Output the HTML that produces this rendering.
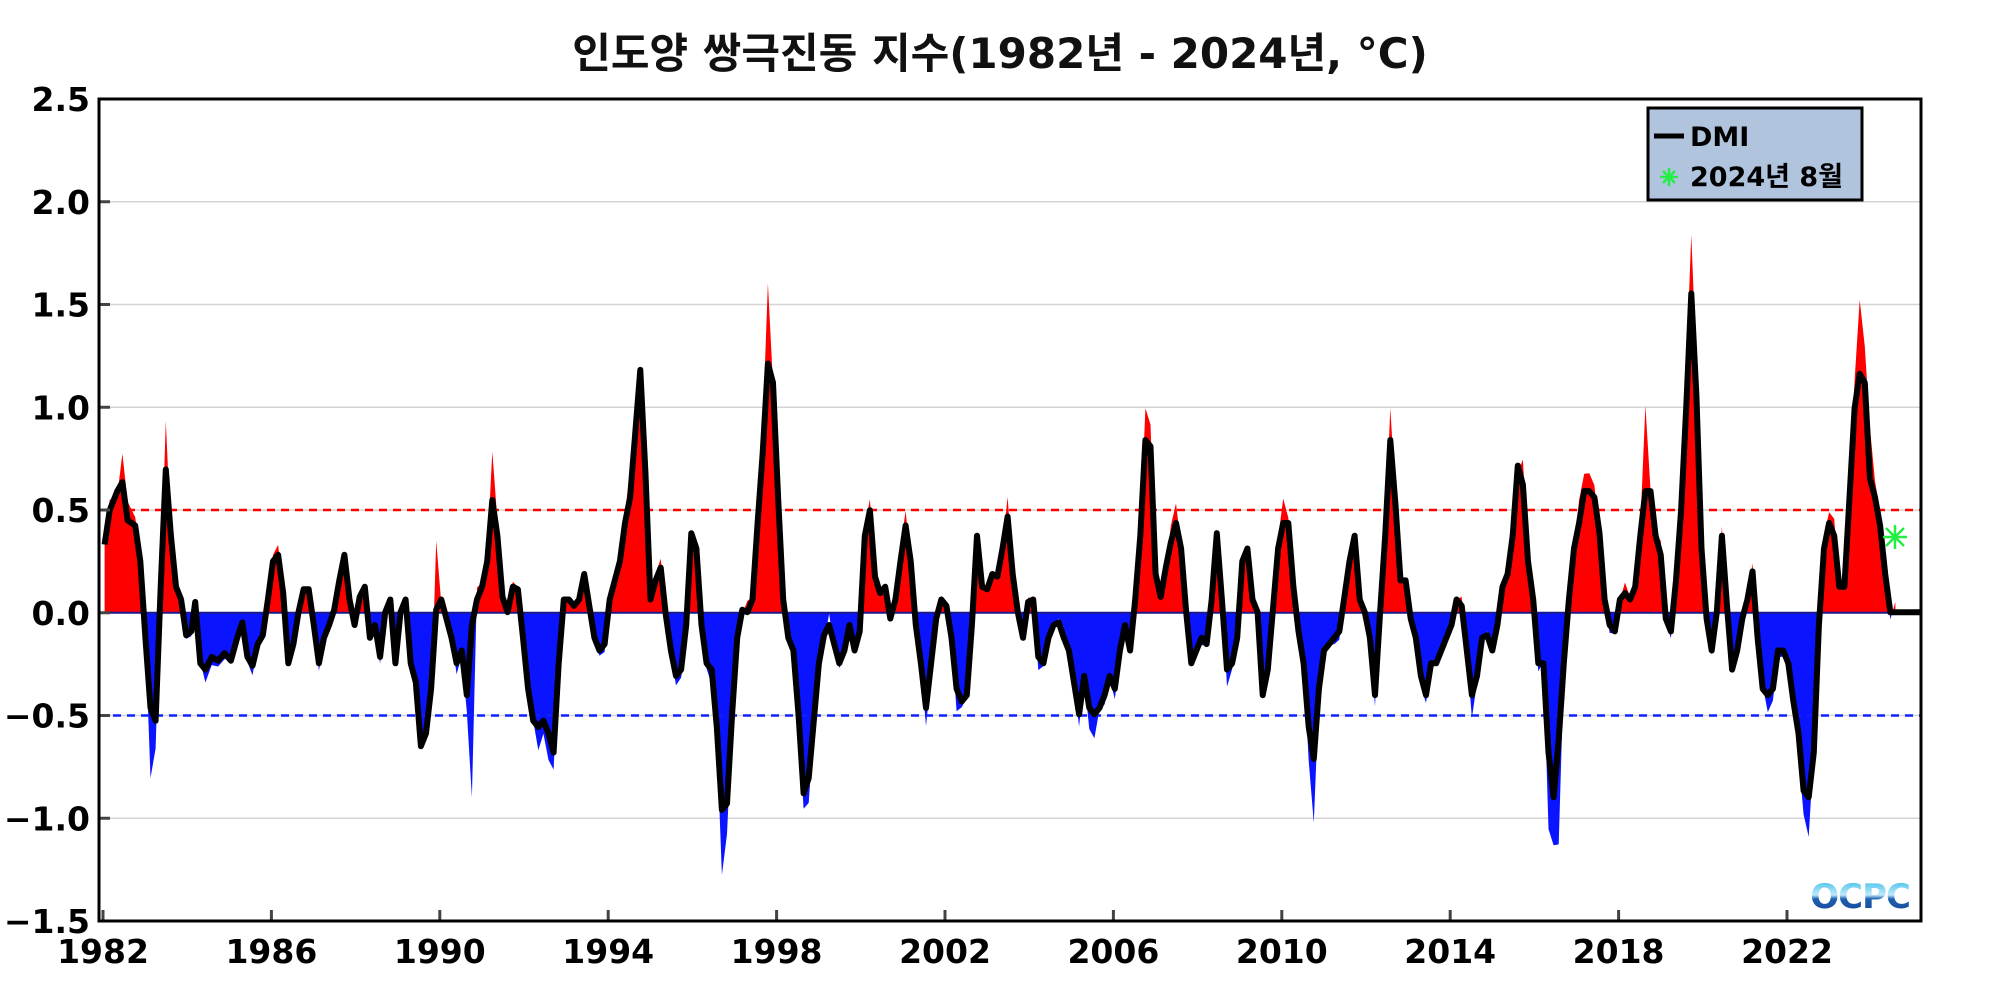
<!DOCTYPE html>
<html><head><meta charset="utf-8"><style>
html,body{margin:0;padding:0;background:#fff;}
svg{display:block;}
text{font-family:"DejaVu Sans","Liberation Sans","Noto Sans CJK KR",sans-serif;font-weight:bold;}
</style></head><body>
<svg id="s" width="2000" height="1000" viewBox="0 0 2000 1000" xmlns="http://www.w3.org/2000/svg">
<defs>
<clipPath id="above"><rect x="99" y="99" width="1822" height="513.75"/></clipPath>
<clipPath id="below"><rect x="99" y="612.75" width="1822" height="308"/></clipPath>
<linearGradient id="lg" x1="0" y1="0" x2="0" y2="1"><stop offset="0" stop-color="#27b8e8"/><stop offset="0.45" stop-color="#bfe9f8"/><stop offset="0.55" stop-color="#1e5fb0"/><stop offset="1" stop-color="#163f91"/></linearGradient>
</defs>
<text x="1000" y="68" font-size="42" text-anchor="middle" fill="#111">인도양 쌍극진동 지수(1982년 - 2024년, °C)</text>
<g id="grid"></g>
<path id="red" fill="#ff0000" clip-path="url(#above)"/>
<path id="blue" fill="#0a14ff" clip-path="url(#below)"/>
<line x1="99" y1="510" x2="1921" y2="510" stroke="#f00" stroke-width="2.5" stroke-dasharray="8,6"/>
<line x1="99" y1="715.5" x2="1921" y2="715.5" stroke="#1020ff" stroke-width="2.5" stroke-dasharray="8,6"/>
<line x1="99" y1="612.75" x2="1895" y2="612.75" stroke="#1a1a8a" stroke-width="2"/>
<line x1="1895" y1="612.75" x2="1921" y2="612.75" stroke="#000" stroke-width="4"/>
<path id="line" fill="none" stroke="#000" stroke-width="6" stroke-linejoin="round"/>
<g id="ticks"></g>
<rect x="99" y="99" width="1822" height="822" fill="none" stroke="#000" stroke-width="3"/>
<g stroke="#22ee44" stroke-width="2.5">
<line x1="1883" y1="537" x2="1907" y2="537"/><line x1="1895" y1="525" x2="1895" y2="549"/>
<line x1="1886" y1="528" x2="1904" y2="546"/><line x1="1904" y1="528" x2="1886" y2="546"/>
</g>
<rect x="1648" y="108" width="214" height="92" fill="#b0c4de" stroke="#000" stroke-width="3"/>
<line x1="1654" y1="136" x2="1684" y2="136" stroke="#000" stroke-width="5"/>
<text x="1690" y="146" font-size="27" fill="#000">DMI</text>
<g stroke="#22ee44" stroke-width="2.5">
<line x1="1660" y1="177" x2="1678" y2="177"/><line x1="1669" y1="168" x2="1669" y2="186"/>
<line x1="1663" y1="171" x2="1675" y2="183"/><line x1="1675" y1="171" x2="1663" y2="183"/>
</g>
<text x="1690" y="186" font-size="27" fill="#000">2024년 8월</text>
<text x="1910" y="908" font-size="34" text-anchor="end" fill="url(#lg)" style="letter-spacing:-1px">OCPC</text>
<g id="labels"></g>
</svg>
<script>
var K=1.2755;
var P=[[82,427],[86,400],[92,385],[96,378],[100,408],[106,412],[110,440],[114,500],[118,555],[122,565],[126,460],[130,368],[134,420],[138,460],[142,470],[146,498],[150,495],[153,472],[157,520],[161,525],[166,515],[171,518],[176,512],[181,518],[186,500],[190,488],[194,515],[198,522],[202,505],[206,498],[210,470],[214,440],[218,435],[222,465],[226,520],[230,505],[234,480],[238,462],[242,462],[246,490],[250,520],[254,500],[258,490],[262,478],[266,455],[270,435],[274,470],[278,490],[282,468],[286,460],[290,500],[294,490],[298,515],[302,480],[306,470],[310,520],[314,480],[318,470],[322,520],[326,535],[330,585],[334,575],[338,540],[342,478],[346,470],[350,485],[354,500],[358,520],[362,510],[366,545],[370,490],[374,470],[378,460],[382,440],[386,392],[390,420],[394,468],[398,480],[402,460],[406,462],[410,500],[414,540],[418,565],[422,570],[426,565],[430,575],[434,590],[438,520],[442,470],[446,470],[450,475],[454,470],[458,450],[462,475],[466,500],[470,510],[474,505],[478,470],[482,455],[486,440],[490,410],[494,390],[498,340],[502,290],[506,370],[510,470],[514,455],[518,445],[522,482],[526,510],[530,530],[534,525],[538,490],[542,418],[546,430],[550,490],[554,520],[558,525],[562,570],[566,635],[570,630],[574,560],[578,500],[582,478],[586,480],[590,470],[594,410],[598,355],[602,285],[606,300],[610,390],[614,470],[618,500],[622,510],[626,560],[630,622],[634,610],[638,565],[642,520],[646,498],[650,490],[654,505],[658,520],[662,510],[666,490],[670,510],[674,495],[678,420],[682,400],[686,452],[690,465],[694,460],[698,485],[702,470],[706,440],[710,412],[714,440],[718,490],[722,520],[726,555],[730,520],[734,485],[738,470],[742,475],[746,500],[750,540],[754,550],[758,545],[762,490],[766,420],[770,460],[774,462],[778,450],[782,452],[786,430],[790,405],[794,450],[798,480],[802,500],[806,472],[810,470],[814,515],[818,520],[822,500],[826,490],[830,488],[834,500],[838,510],[842,535],[846,560],[850,530],[854,555],[858,560],[862,555],[866,545],[870,530],[874,540],[878,510],[882,490],[886,510],[890,470],[894,420],[898,345],[902,350],[906,450],[910,468],[914,445],[918,425],[922,410],[926,430],[930,480],[934,520],[938,510],[942,500],[946,505],[950,470],[954,418],[958,470],[962,525],[966,520],[970,500],[974,440],[978,430],[982,470],[986,480],[990,545],[994,525],[998,478],[1002,430],[1006,410],[1010,410],[1014,460],[1018,495],[1022,520],[1026,570],[1030,595],[1034,540],[1038,510],[1042,505],[1046,500],[1050,495],[1054,468],[1058,440],[1062,420],[1066,470],[1070,480],[1074,500],[1078,545],[1082,480],[1086,420],[1090,345],[1094,395],[1098,455],[1102,455],[1106,485],[1110,500],[1114,530],[1118,545],[1122,520],[1126,520],[1130,510],[1134,500],[1138,490],[1142,470],[1146,475],[1150,510],[1154,545],[1158,530],[1162,500],[1166,498],[1170,510],[1174,490],[1178,460],[1182,450],[1186,420],[1190,365],[1194,380],[1198,440],[1202,470],[1206,520],[1210,520],[1214,590],[1218,625],[1222,580],[1226,520],[1230,470],[1234,430],[1238,410],[1242,385],[1246,385],[1250,390],[1254,418],[1258,470],[1262,490],[1266,495],[1270,470],[1274,465],[1278,470],[1282,460],[1286,420],[1290,385],[1294,385],[1298,420],[1302,435],[1306,485],[1310,495],[1314,455],[1318,400],[1322,320],[1326,230],[1330,310],[1334,430],[1338,485],[1342,510],[1346,480],[1350,420],[1354,475],[1358,525],[1362,510],[1366,485],[1370,470],[1374,448],[1378,500],[1382,540],[1386,545],[1390,540],[1394,510],[1398,510],[1402,520],[1406,550],[1410,575],[1414,620],[1418,625],[1422,590],[1426,490],[1430,430],[1434,410],[1438,420],[1442,460],[1446,460],[1450,390],[1454,320],[1458,293],[1462,300],[1466,375],[1470,390],[1474,412],[1478,450],[1482,480],[1486,480]];
var Z=480;
function f(n){return n.toFixed(1);}
var d='';P.forEach(function(p,i){d+=(i?'L':'M')+f(p[0]*K)+' '+f(p[1]*K);});
document.getElementById('line').setAttribute('d',d+'L'+f(1506*K)+' '+f(Z*K));
var spikes={500:219,602:222,1326:184,1290:318,1458:235,130:330,566:686,1222:662,1030:645,898:320,1090:320,386:354,1214:650,370:625,118:610,630:634,342:424,1466:335};
var r='M'+f(P[0][0]*K)+' '+f(Z*K);
P.forEach(function(p,i){
 var y=p[1];
 var n=Math.sin(i*2.37)*0.5+Math.sin(i*5.11)*0.5;
 var dv=(y-Z);
 y=Z+dv*(1.12+0.18*n);
 if(Math.abs(dv)<20) y+= n*10;
 if(spikes[p[0]]) y=spikes[p[0]];
 r+='L'+f(p[0]*K)+' '+f(y*K);
});
r+='L'+f(1486*K)+' '+f(Z*K)+'Z';
document.getElementById('red').setAttribute('d',r);
document.getElementById('blue').setAttribute('d',r);
var g='',t='',l='';
for(var v=-1.5;v<=2.5001;v+=0.5){
 var y=612.75-v*205.5;
 if(v>-1.4&&v<2.4) g+='<line x1="99" y1="'+y+'" x2="1921" y2="'+y+'" stroke="#d4d4d4" stroke-width="1.5"/>';
 t+='<line x1="99" y1="'+y+'" x2="110" y2="'+y+'" stroke="#444" stroke-width="3"/>';
 var s=(v<0?'\u2212':'')+Math.abs(v).toFixed(1);
 l+='<text x="90" y="'+(y+12)+'" font-size="33" text-anchor="end" fill="#000">'+s+'</text>';
}
for(var yr=1982;yr<=2022;yr+=4){
 var x=103+(yr-1982)*42.1;
 t+='<line x1="'+x+'" y1="910" x2="'+x+'" y2="921" stroke="#444" stroke-width="3"/>';
 l+='<text x="'+x+'" y="963" font-size="33" text-anchor="middle" fill="#000">'+yr+'</text>';
}
document.getElementById('grid').innerHTML=g;
document.getElementById('ticks').innerHTML=t;
document.getElementById('labels').innerHTML=l;
</script>
</body></html>
